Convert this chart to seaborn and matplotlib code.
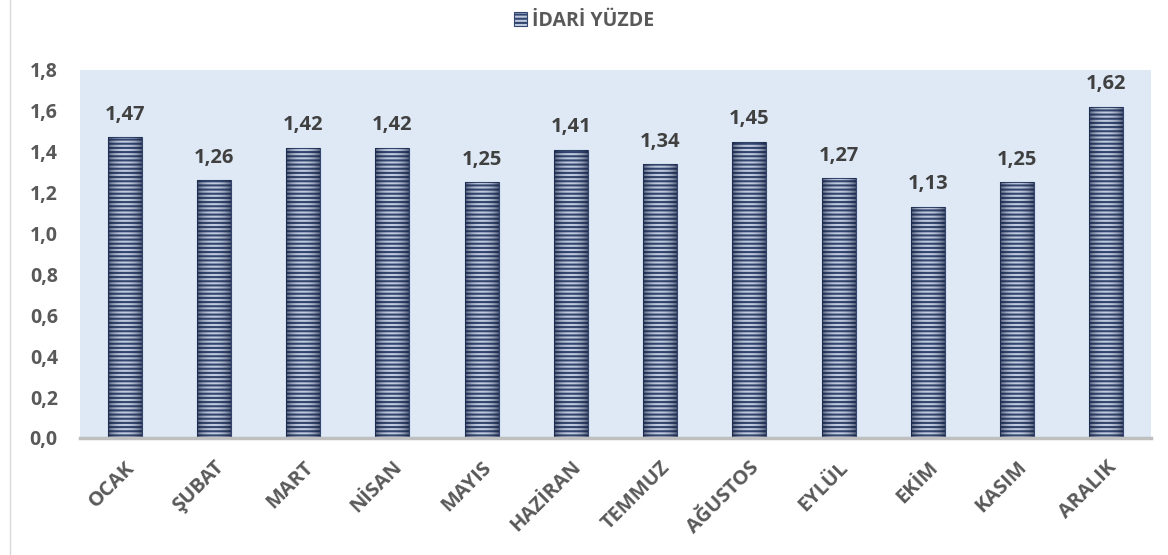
import matplotlib
matplotlib.use("Agg")
import matplotlib.pyplot as plt
import seaborn as sns
import numpy as np
import pandas as pd
from matplotlib.patches import Patch
from matplotlib.lines import Line2D

months = ["OCAK", "ŞUBAT", "MART", "NİSAN", "MAYIS", "HAZİRAN", "TEMMUZ",
          "AĞUSTOS", "EYLÜL", "EKİM", "KASIM", "ARALIK"]
values = [1.47, 1.26, 1.42, 1.42, 1.25, 1.41, 1.34, 1.45, 1.27, 1.13, 1.25, 1.62]
yticks = [0.0, 0.2, 0.4, 0.6, 0.8, 1.0, 1.2, 1.4, 1.6, 1.8]
series_name = "İDARİ YÜZDE"

sns.set_theme(style="white")
plt.rcParams["font.family"] = ["Open Sans", "DejaVu Sans"]
plt.rcParams["hatch.linewidth"] = 1.5

df = pd.DataFrame({"month": months, "value": values})

fig = plt.figure(figsize=(11.68, 5.55), dpi=100)
ax = fig.add_axes([80 / 1168, 1 - 438 / 555, (1151 - 80) / 1168, (438 - 70) / 555])
ax.set_facecolor("#DEE9F5")

face = "#BFCADF"
dark = "#34466F"
sns.barplot(data=df, x="month", y="value", color=face, width=0.38,
            saturation=1, ax=ax, edgecolor=dark, linewidth=0.8, hatch="----")
for p in ax.patches:
    p.set_facecolor(face)
    p.set_edgecolor(dark)

# cylinder-like side shading
grad = np.linspace(-1, 1, 64)
alpha = np.clip(np.abs(grad) ** 2.2 * 0.6, 0, 0.65)
img = np.zeros((1, 64, 4))
img[..., 0] = 0.06
img[..., 1] = 0.10
img[..., 2] = 0.22
img[..., 3] = alpha
for p in list(ax.patches):
    x0, w, h = p.get_x(), p.get_width(), p.get_height()
    im = ax.imshow(img, extent=[x0, x0 + w, 0, h], aspect="auto", zorder=p.get_zorder() + 0.1,
                   interpolation="bilinear")
    im.set_clip_path(p)

ax.set_xlim(-0.5, len(months) - 0.5)
ax.set_ylim(0, 1.8)
ax.set_yticks(yticks)
ax.set_yticklabels([f"{t:.1f}".replace(".", ",") for t in yticks],
                   fontsize=14, fontweight="bold", color="#595959")
ax.set_xticks(range(len(months)))
ax.set_xticklabels(months, rotation=45, ha="right", rotation_mode="anchor",
                   fontsize=14.5, fontweight="bold", color="#595959")
ax.tick_params(axis="x", pad=14, length=0)
ax.tick_params(axis="y", pad=16, length=0)
ax.set_xlabel("")
ax.set_ylabel("")
for s in ["top", "right", "left"]:
    ax.spines[s].set_visible(False)
ax.spines["bottom"].set_color("#BFBFBF")
ax.spines["bottom"].set_linewidth(2.5)

for i, v in enumerate(values):
    ax.annotate(f"{v:.2f}".replace(".", ","), (i, v), xytext=(0, 9),
                textcoords="offset points", ha="center", va="bottom",
                fontsize=14.5, fontweight="bold", color="#404040")

handle = Patch(facecolor=face, edgecolor=dark, hatch="----", linewidth=0.8)
fig.legend([handle], [series_name], loc="center", bbox_to_anchor=(0.5, 1 - 21 / 555),
           frameon=False, prop={"weight": "bold", "size": 14}, labelcolor="#595959",
           handlelength=0.7, handleheight=0.7, handletextpad=0.25)

fig.add_artist(Line2D([10 / 1168, 10 / 1168], [0, 1], transform=fig.transFigure,
                      color="#D9D9D9", linewidth=1))

fig.savefig("out.png", dpi=100)
